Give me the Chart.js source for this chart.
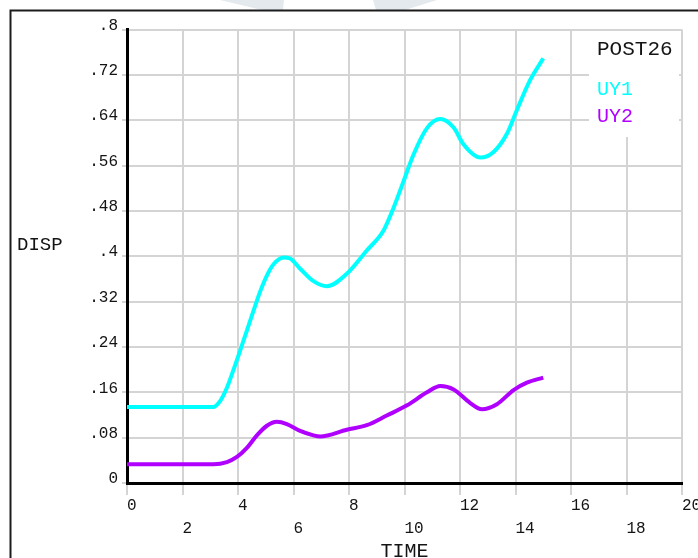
<!DOCTYPE html>
<html>
<head>
<meta charset="utf-8">
<script src="https://cdn.jsdelivr.net/npm/chart.js@4.4.1/dist/chart.umd.min.js"></script>
<style>
  html, body { margin: 0; padding: 0; background: #ffffff; }
  canvas { display: block; }
</style>
</head>
<body>
<canvas id="post26" width="698" height="558"></canvas>
<script>
// Time-history results: displacement of two nodes versus load time
const uy1Time = [0, 1, 2, 3.1, 3.36, 3.6, 3.84, 4.08, 4.32, 4.56, 4.8, 5.04, 5.28, 5.64, 5.88, 6.24, 6.72, 7.2, 7.92, 8.64, 9.25, 9.61, 9.97, 10.33, 10.81, 11.29, 11.77, 12.13, 12.73, 13.21, 13.69, 14.05, 14.53, 15.0];
const uy1Disp = [0.134, 0.134, 0.134, 0.134, 0.145, 0.168, 0.2, 0.234, 0.269, 0.304, 0.338, 0.366, 0.386, 0.398, 0.396, 0.378, 0.356, 0.347, 0.369, 0.41, 0.446, 0.486, 0.533, 0.58, 0.626, 0.642, 0.627, 0.597, 0.574, 0.584, 0.616, 0.658, 0.711, 0.749];

const uy2Time = [0, 1, 2, 3.12, 3.6, 3.96, 4.32, 4.68, 5.04, 5.4, 5.76, 6.24, 6.72, 6.96, 7.92, 8.64, 9.36, 10.09, 10.81, 11.29, 11.77, 12.37, 12.79, 13.33, 13.93, 14.41, 15.0];
const uy2Disp = [0.033, 0.033, 0.033, 0.033, 0.037, 0.046, 0.062, 0.084, 0.101, 0.108, 0.104, 0.092, 0.084, 0.082, 0.094, 0.102, 0.119, 0.137, 0.16, 0.171, 0.165, 0.141, 0.13, 0.139, 0.164, 0.177, 0.186];

const seriesNames = ['UY1', 'UY2'];
const xTickValues = [0, 2, 4, 6, 8, 10, 12, 14, 16, 18, 20];
const xTickLabels = ['0', '2', '4', '6', '8', '10', '12', '14', '16', '18', '20'];
const yTickValues = [0, 0.08, 0.16, 0.24, 0.32, 0.4, 0.48, 0.56, 0.64, 0.72, 0.8];
const yTickLabels = ['0', '.08', '.16', '.24', '.32', '.4', '.48', '.56', '.64', '.72', '.8'];
const xTitle = 'TIME';
const yTitle = 'DISP';
const plotTitle = 'POST26';

const seriesColors = ['#00ffff', '#b000ff'];
const MONO = "'Liberation Mono', 'Courier New', monospace";
const INK = '#141414';
const GRID = '#d4d4d4';

function toPoints(xs, ys) {
  return xs.map((t, i) => ({ x: t, y: ys[i] }));
}

// Page frame and faint banner behind the plot
const framePlugin = {
  id: 'frame',
  beforeDraw(chart) {
    const ctx = chart.ctx;
    ctx.save();
    ctx.fillStyle = '#ffffff';
    ctx.fillRect(0, 0, chart.width, chart.height);
    ctx.fillStyle = '#e3e9ec';
    ctx.beginPath();
    ctx.moveTo(220, 0); ctx.lineTo(284, 0); ctx.lineTo(283, 10); ctx.lineTo(262, 10); ctx.closePath();
    ctx.fill();
    ctx.beginPath();
    ctx.moveTo(373, 0); ctx.lineTo(437, 0); ctx.lineTo(405, 10); ctx.lineTo(376, 10); ctx.closePath();
    ctx.fill();
    ctx.strokeStyle = '#1c1c1c';
    ctx.lineWidth = 2;
    ctx.beginPath();
    ctx.moveTo(10.5, chart.height);
    ctx.lineTo(10.5, 10.5);
    ctx.lineTo(chart.width, 10.5);
    ctx.stroke();
    ctx.restore();
  }
};

// Title block in the upper right corner of the plot with the series names
const legendPlugin = {
  id: 'cornerLegend',
  beforeDatasetsDraw(chart) {
    const ctx = chart.ctx;
    const area = chart.chartArea;
    const boxRight = area.right - 3;
    const boxLeft = boxRight - 90;
    ctx.save();
    ctx.fillStyle = '#ffffff';
    ctx.fillRect(boxLeft, area.top + 1.5, boxRight - boxLeft, 106);
    ctx.textAlign = 'left';
    ctx.textBaseline = 'alphabetic';
    ctx.font = '21px ' + MONO;
    ctx.fillStyle = INK;
    ctx.fillText(plotTitle, boxLeft + 8, area.top + 25.5);
    ctx.font = '20px ' + MONO;
    chart.data.datasets.forEach((ds, i) => {
      ctx.fillStyle = ds.borderColor;
      ctx.fillText(ds.label, boxLeft + 8, area.top + 65.5 + i * 26.5);
    });
    ctx.restore();
  }
};

// Horizontal y-axis caption placed beside the axis
const yCaptionPlugin = {
  id: 'yCaption',
  afterDraw(chart) {
    const ctx = chart.ctx;
    const area = chart.chartArea;
    ctx.save();
    ctx.font = '19px ' + MONO;
    ctx.fillStyle = INK;
    ctx.textAlign = 'left';
    ctx.textBaseline = 'alphabetic';
    ctx.fillText(yTitle, 17, (area.top + area.bottom) / 2 - 6);
    ctx.restore();
  }
};

new Chart(document.getElementById('post26'), {
  type: 'line',
  data: {
    datasets: [
      {
        label: seriesNames[0],
        data: toPoints(uy1Time, uy1Disp),
        borderColor: seriesColors[0],
        backgroundColor: seriesColors[0],
        borderWidth: 4,
        pointRadius: 0,
        fill: false,
        cubicInterpolationMode: 'monotone'
      },
      {
        label: seriesNames[1],
        data: toPoints(uy2Time, uy2Disp),
        borderColor: seriesColors[1],
        backgroundColor: seriesColors[1],
        borderWidth: 4,
        pointRadius: 0,
        fill: false,
        cubicInterpolationMode: 'monotone'
      }
    ]
  },
  options: {
    responsive: false,
    animation: false,
    devicePixelRatio: 1,
    layout: { padding: { left: 0, top: 29.5, right: 16, bottom: 0 } },
    plugins: {
      legend: { display: false },
      tooltip: { enabled: false },
      title: { display: false }
    },
    scales: {
      x: {
        type: 'linear',
        min: 0,
        max: 20,
        afterBuildTicks(scale) {
          scale.ticks = xTickValues.map(v => ({ value: v }));
        },
        afterFit(scale) {
          scale.height = 75;
          scale.paddingLeft = 0;
          scale.paddingRight = 0;
        },
        grid: { color: GRID, lineWidth: 2, tickLength: 12, drawTicks: true },
        border: { display: true, color: '#000000', width: 3 },
        ticks: {
          align: 'start',
          autoSkip: false,
          maxRotation: 0,
          minRotation: 0,
          padding: 0,
          color: INK,
          font: { family: MONO, size: 16, lineHeight: 1.4 },
          callback(value, index) {
            const label = xTickLabels[index];
            return index % 2 === 1 ? ['', label] : label;
          }
        },
        title: {
          display: true,
          text: xTitle,
          color: INK,
          font: { family: MONO, size: 20, lineHeight: 1 },
          padding: { top: 0, bottom: -4 }
        }
      },
      y: {
        type: 'linear',
        min: 0,
        max: 0.8,
        afterBuildTicks(scale) {
          scale.ticks = yTickValues.map(v => ({ value: v }));
        },
        afterFit(scale) {
          scale.width = 127;
        },
        grid: { color: GRID, lineWidth: 2, tickLength: 5, drawTicks: true },
        border: { display: true, color: '#000000', width: 3 },
        ticks: {
          padding: 4,
          labelOffset: -4,
          color: INK,
          font: { family: MONO, size: 16 },
          callback(value, index) {
            return yTickLabels[index];
          }
        }
      }
    }
  },
  plugins: [framePlugin, legendPlugin, yCaptionPlugin]
});
</script>
</body>
</html>
